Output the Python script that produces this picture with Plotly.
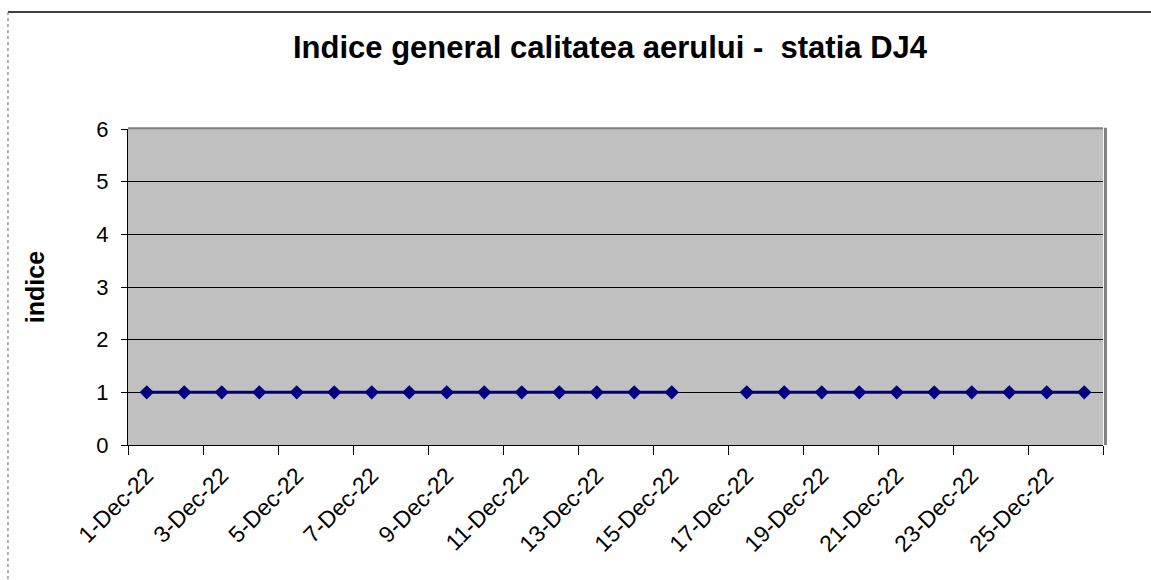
import plotly.graph_objects as go

days = [f"{d}-Dec-22" for d in range(1, 27)]
values = [1, 1, 1, 1, 1, 1, 1, 1, 1, 1, 1, 1, 1, 1, 1, None,
          1, 1, 1, 1, 1, 1, 1, 1, 1, 1]
label_days = days[::2]

title = "Indice general calitatea aerului -  statia DJ4"
y_title = "indice"

n = len(days)
idx = list(range(n))
boundaries = [i - 0.5 for i in range(0, n + 1, 2)]

fig = go.Figure()
fig.add_trace(go.Scatter(
    x=days, y=values, mode="lines+markers",
    line=dict(color="#000080", width=3),
    marker=dict(symbol="diamond", size=11, color="#000080"),
    connectgaps=False, showlegend=False,
))
# invisible helper trace for the tick-mark axis
fig.add_trace(go.Scatter(
    x=idx, y=values, xaxis="x2", mode="markers", opacity=0,
    hoverinfo="skip", showlegend=False,
))

font = "Liberation Sans, Arial, sans-serif"
fig.update_layout(
    width=1151, height=580,
    margin=dict(l=128, r=48, t=129, b=135),
    paper_bgcolor="white", plot_bgcolor="#C0C0C0",
    title=dict(text=f"<b>{title}</b>", x=610 / 1151, xanchor="center",
               y=1 - 47 / 580, yanchor="middle",
               font=dict(family=font, size=31, color="black")),
    font=dict(family=font, color="black"),
    xaxis=dict(
        type="category", categoryorder="array", categoryarray=days,
        range=[-0.5, n - 0.5], tickmode="array", tickvals=label_days, ticktext=label_days,
        ticks="", tickangle=-45, ticklabelstandoff=7,
        tickfont=dict(family=font, size=23, color="black"),
        showgrid=False, showline=True, linecolor="black", linewidth=1,
        zeroline=False, fixedrange=True,
    ),
    xaxis2=dict(
        overlaying="x", anchor="y", side="bottom",
        range=[-0.5, n - 0.5], tickmode="array", tickvals=boundaries,
        showticklabels=False, ticks="outside", ticklen=9, tickcolor="black", tickwidth=1,
        showgrid=False, zeroline=False, showline=False, fixedrange=True,
    ),
    yaxis=dict(
        range=[0, 6], tickmode="array", tickvals=[0, 1, 2, 3, 4, 5, 6],
        ticks="outside", ticklen=6, tickcolor="black",
        tickfont=dict(family=font, size=22, color="black"),
        ticklabelstandoff=8,
        showgrid=True, gridcolor="black", gridwidth=1,
        showline=True, linecolor="black", linewidth=1, zeroline=False,
        fixedrange=True,
        title=dict(text=f"<b>{y_title}</b>", font=dict(family=font, size=25, color="black"),
                   standoff=44),
    ),
)
# plot area borders: gray top, thick gray right
fig.add_shape(type="line", xref="paper", yref="paper", x0=0, x1=1, y0=1.002, y1=1.002,
              line=dict(color="#808080", width=2))
fig.add_shape(type="line", xref="paper", yref="paper", x0=1.0025, x1=1.0025, y0=0, y1=1.004,
              line=dict(color="#808080", width=3))
# chart outer border (top and left)
fig.add_shape(type="line", xref="paper", yref="paper", x0=-0.1231, x1=1.1, y0=1.370, y1=1.370,
              line=dict(color="black", width=1.5))
fig.add_shape(type="line", xref="paper", yref="paper", x0=-0.1231, x1=-0.1231, y0=1.370, y1=-0.43,
              line=dict(color="#606060", width=1, dash="dot"))

fig.write_html("out.html", config={"displayModeBar": False},
               post_script="document.body.style.margin='0';")
